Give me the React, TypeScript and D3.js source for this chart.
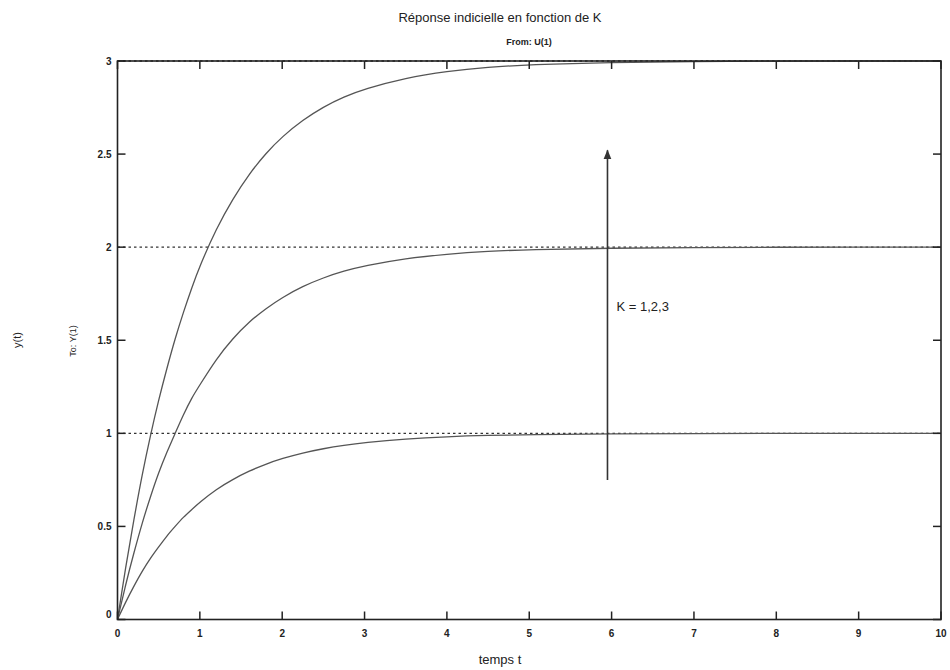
import React from "react";
import * as d3 from "d3";

const timePoints = [0, 0.1, 0.2, 0.3, 0.4, 0.5, 0.6, 0.7, 0.8, 0.9, 1.0, 1.2, 1.4, 1.6, 1.8, 2.0, 2.25, 2.5, 2.75, 3, 3.5, 4, 4.5, 5, 6, 7, 8, 9, 10];
const responseK1 = [0, 0.095, 0.18, 0.26, 0.33, 0.39, 0.45, 0.5, 0.55, 0.59, 0.63, 0.7, 0.753, 0.798, 0.835, 0.865, 0.895, 0.918, 0.936, 0.95, 0.97, 0.982, 0.989, 0.993, 0.997, 0.999, 1.0, 1.0, 1.0];
const responseK2 = [0, 0.19, 0.36, 0.52, 0.66, 0.79, 0.9, 1.0, 1.1, 1.19, 1.26, 1.4, 1.51, 1.6, 1.67, 1.73, 1.79, 1.836, 1.872, 1.9, 1.94, 1.963, 1.978, 1.987, 1.995, 1.998, 2.0, 2.0, 2.0];
const responseK3 = [0, 0.285, 0.54, 0.78, 0.99, 1.18, 1.35, 1.51, 1.65, 1.78, 1.9, 2.1, 2.26, 2.394, 2.504, 2.594, 2.683, 2.754, 2.808, 2.85, 2.91, 2.945, 2.967, 2.98, 2.993, 2.997, 3.0, 3.0, 3.0];
const steadyLevels = [1, 2, 3];
const xTicks = [0, 1, 2, 3, 4, 5, 6, 7, 8, 9, 10];
const yTicks = [0, 0.5, 1, 1.5, 2, 2.5, 3];
const arrowT = 5.95;
const arrowFrom = 0.75;
const arrowTo = 2.52;

const W = 950;
const H = 670;
const L = 117.5;
const R = 941;
const T = 61;
const B = 619.5;
const FONT = "'Liberation Sans', Arial, Helvetica, sans-serif";

export default function App() {
  const x = d3.scaleLinear().domain([0, 10]).range([L, R]);
  const y = d3.scaleLinear().domain([0, 3]).range([B, T]);
  const line = d3
    .line<number>()
    .x((_, i) => x(timePoints[i]))
    .y((d) => y(d))
    .curve(d3.curveBasis);
  const series = [responseK1, responseK2, responseK3];
  const tickLen = 8;

  return (
    <svg
      width={W}
      height={H}
      style={{ position: "absolute", left: 0, top: 0, background: "#fff" }}
      fontFamily={FONT}
    >
      <rect x={0} y={0} width={W} height={H} fill="#fff" />
      {steadyLevels.map((lv) => (
        <line
          key={lv}
          x1={x(0)}
          x2={x(10)}
          y1={y(lv)}
          y2={y(lv)}
          stroke="#333"
          strokeWidth={1.3}
          strokeDasharray="2.5,3"
        />
      ))}
      {series.map((s, i) => (
        <path key={i} d={line(s) || ""} fill="none" stroke="#555" strokeWidth={1.3} />
      ))}
      <rect x={L} y={T} width={R - L} height={B - T} fill="none" stroke="#222" strokeWidth={1.6} />
      {xTicks.map((t) => (
        <g key={"x" + t}>
          <line x1={x(t)} x2={x(t)} y1={B} y2={B - tickLen} stroke="#222" strokeWidth={1.5} />
          <line x1={x(t)} x2={x(t)} y1={T} y2={T + tickLen} stroke="#222" strokeWidth={1.5} />
          <text x={x(t)} y={B + 17} textAnchor="middle" fontSize={10} fontWeight="bold" fill="#222">
            {t}
          </text>
        </g>
      ))}
      {yTicks.map((v) => (
        <g key={"y" + v}>
          <line x1={L} x2={L + tickLen} y1={y(v)} y2={y(v)} stroke="#222" strokeWidth={1.5} />
          <line x1={R} x2={R - tickLen} y1={y(v)} y2={y(v)} stroke="#222" strokeWidth={1.5} />
          <text
            x={L - 6}
            y={y(v) + (v === 0 ? -2 : 4)}
            textAnchor="end"
            fontSize={10}
            fontWeight="bold"
            fill="#222"
          >
            {v}
          </text>
        </g>
      ))}
      <defs>
        <marker id="ah" viewBox="0 0 10 10" refX="9" refY="5" markerWidth="6" markerHeight="8" orient="auto">
          <path d="M0,1 L10,5 L0,9 Z" fill="#333" />
        </marker>
      </defs>
      <line
        x1={x(arrowT)}
        x2={x(arrowT)}
        y1={y(arrowFrom)}
        y2={y(arrowTo)}
        stroke="#333"
        strokeWidth={1.6}
        markerEnd="url(#ah)"
      />
      <text x={x(arrowT) + 9} y={y(2) + 64} fontSize={13} fill="#222">
        K = 1,2,3
      </text>
      <text x={500} y={22} textAnchor="middle" fontSize={13} fill="#222">
        Réponse indicielle en fonction de K
      </text>
      <text x={529} y={45} textAnchor="middle" fontSize={9} fontWeight="bold" fill="#222">
        From: U(1)
      </text>
      <text x={500} y={664} textAnchor="middle" fontSize={13} fill="#222">
        temps t
      </text>
      <text transform={`translate(21, 340) rotate(-90)`} textAnchor="middle" fontSize={11} fill="#222">
        y(t)
      </text>
      <text transform={`translate(76, 341) rotate(-90)`} textAnchor="middle" fontSize={9} fill="#222">
        To: Y(1)
      </text>
    </svg>
  );
}
